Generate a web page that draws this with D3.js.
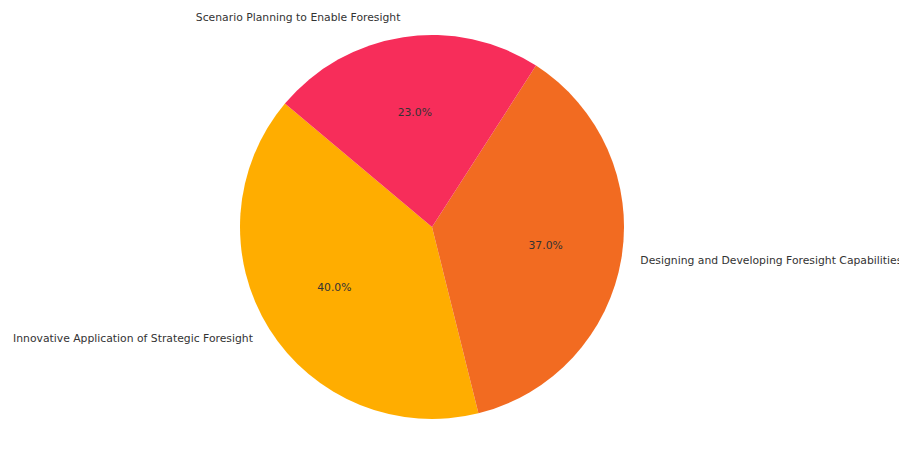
<!DOCTYPE html>
<html>
<head>
<meta charset="utf-8">
<script src="https://cdn.jsdelivr.net/npm/d3@7"></script>
<style>
  body { margin: 0; background: #fff; overflow: hidden; }
  text { font-family: "DejaVu Sans", sans-serif; fill: #333; }
</style>
</head>
<body>
<div id="chart"></div>
<script>
const categories = ["Innovative Application of Strategic Foresight", "Designing and Developing Foresight Capabilities", "Scenario Planning to Enable Foresight"];
const shares = [40, 37, 23];
const colors = ["#FFAD00", "#F26B21", "#F72D5A"];

const width = 899, height = 464;
const cx = 432, cy = 227, radius = 192;

const svg = d3.select("#chart")
  .append("svg")
  .attr("width", width)
  .attr("height", height)
.append("g")
  .attr("transform", `translate(${cx}, ${cy})`);

// matplotlib style: counter-clockwise, starting at 140 degrees
const start = (90 - 140) * Math.PI / 180;
const pie = d3.pie().sort(null)
  .startAngle(start)
  .endAngle(start - 2 * Math.PI);

const arcs = pie(shares);

const arc = d3.arc().innerRadius(0).outerRadius(radius);
const labelArc = d3.arc().innerRadius(radius * 1.1).outerRadius(radius * 1.1);
const pctArc = d3.arc().innerRadius(radius * 0.6).outerRadius(radius * 0.6);

svg.selectAll("path.slice")
  .data(arcs)
  .join("path")
    .attr("class", "slice")
    .attr("d", arc)
    .style("fill", (d, i) => colors[i]);

svg.selectAll("text.label")
  .data(arcs)
  .join("text")
    .attr("class", "label")
    .attr("x", d => labelArc.centroid(d)[0])
    .attr("y", d => labelArc.centroid(d)[1])
    .attr("text-anchor", d => labelArc.centroid(d)[0] < 0 ? "end" : "start")
    .attr("dominant-baseline", "middle")
    .style("font-size", "10.8px")
    .text((d, i) => categories[i]);

svg.selectAll("text.pct")
  .data(arcs)
  .join("text")
    .attr("class", "pct")
    .attr("x", d => pctArc.centroid(d)[0])
    .attr("y", d => pctArc.centroid(d)[1])
    .attr("text-anchor", "middle")
    .attr("dominant-baseline", "middle")
    .style("font-size", "10.8px")
    .text(d => d.data.toFixed(1) + "%");
</script>
</body>
</html>
